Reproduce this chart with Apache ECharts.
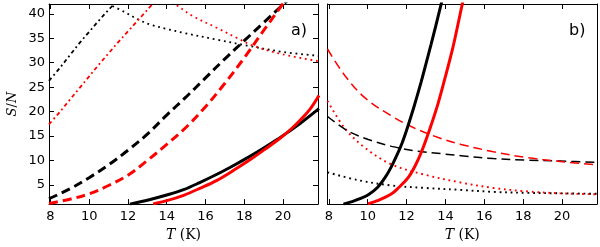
<!DOCTYPE html>
<html>
<head>
<meta charset="utf-8">
<script src="https://cdn.jsdelivr.net/npm/echarts@6/dist/echarts.min.js"></script>
<style>html,body{margin:0;padding:0;background:#fff}#c{width:600px;height:247px}</style>
</head>
<body>
<div id="c"></div>
<script>
// ---- tick labels ----
const xTicks = [8, 10, 12, 14, 16, 18, 20];
const yTicks = [5, 10, 15, 20, 25, 30, 35, 40];

// ---- panel a) ----
const aBlackSolidT = [12.1, 13.15, 14.0, 14.87, 15.7, 16.59, 17.45, 18.31, 19.0, 19.69, 20.3, 20.89, 21.85];
const aBlackSolidV = [1.1, 2.05, 2.95, 4.05, 5.5, 7.2, 9.0, 10.9, 12.55, 14.3, 15.95, 17.6, 20.6];
const aRedSolidT = [13.3, 14.0, 14.87, 15.7, 16.59, 17.45, 18.31, 19.1, 19.86, 20.4, 20.89, 21.35, 21.85];
const aRedSolidV = [1.15, 1.8, 2.9, 4.3, 5.95, 8.0, 10.2, 12.4, 14.6, 16.4, 18.3, 20.3, 23.3];
const aBlackDashT = [7.93, 9, 10, 11, 12, 13, 14, 15, 16, 17, 18, 19, 20, 20.5];
const aBlackDashV = [2.2, 4.2, 6.5, 9.1, 12.1, 15.4, 19.3, 23.0, 26.9, 30.8, 34.5, 38.2, 41.9, 43.7];
const aRedDashT = [7.93, 9, 10, 11, 12, 13, 14, 15, 16, 17, 18, 19, 20, 20.4];
const aRedDashV = [1.25, 2.1, 3.2, 4.9, 7.0, 10.0, 13.3, 16.8, 21.0, 25.8, 31.0, 36.6, 42.1, 44.5];
const aBlackDashDotT = [7.93, 8.5, 9.0, 9.5, 10.0, 10.5, 11.0, 11.2];
const aBlackDashDotV = [26.3, 29.0, 31.5, 34.0, 36.3, 38.6, 40.8, 41.6];
const aBlackDotT = [11.2, 11.76, 12.64, 13.15, 14.0, 14.87, 16.6, 18.15, 20.0, 21.85];
const aBlackDotV = [41.6, 40.5, 38.6, 37.8, 36.9, 36.1, 34.7, 33.5, 32.2, 31.4];
const aRedDashDotT = [7.93, 8.5, 9, 9.5, 10, 10.5, 11, 11.5, 12, 12.5, 13, 13.5];
const aRedDashDotV = [17.4, 20.0, 22.4, 24.8, 27.2, 29.6, 31.9, 34.2, 36.4, 38.6, 40.8, 43.0];
const aRedDotT = [14.3, 14.5, 15.36, 16.6, 17.6, 18.5, 20.0, 21.85];
const aRedDotV = [42.5, 41.8, 39.5, 37.1, 35.1, 33.4, 31.7, 30.3];

// ---- panel b) ----
const bBlackSolidT = [8.75, 9.2, 9.6, 10.03, 10.5, 10.89, 11.2, 11.49, 11.75, 12.0, 12.25, 12.5, 12.75, 13.0, 13.25, 13.5, 13.75, 13.9];
const bBlackSolidV = [1.1, 1.6, 2.2, 3.0, 4.5, 6.5, 8.6, 11.0, 13.4, 16.2, 19.3, 22.6, 26.1, 29.8, 33.6, 37.5, 41.5, 44.0];
const bRedSolidT = [10.0, 10.5, 11.23, 11.6, 12.09, 12.45, 12.78, 13.2, 13.63, 13.98, 14.4, 14.84, 15.0];
const bRedSolidV = [1.15, 1.8, 3.2, 4.5, 6.55, 9.0, 11.9, 16.5, 21.8, 26.9, 33.4, 41.5, 44.3];
const bBlackDashT = [7.93, 9.0, 10.03, 11.23, 12.6, 13.8, 14.8, 16.47, 18.19, 19.9, 21.85];
const bBlackDashV = [19.0, 16.0, 14.3, 12.9, 11.9, 11.4, 11.0, 10.4, 10.1, 9.9, 9.6];
const bRedDashT = [7.93, 8.82, 9.86, 11.23, 12.26, 13.63, 14.8, 16.47, 18.19, 19.9, 21.85];
const bRedDashV = [32.8, 27.4, 22.8, 19.1, 16.9, 14.7, 13.3, 11.8, 10.6, 9.8, 9.1];
const bBlackDotT = [7.93, 9.5, 11.23, 12.95, 14.8, 16.47, 18.2, 19.9, 21.85];
const bBlackDotV = [7.6, 6.0, 4.9, 4.4, 4.0, 3.6, 3.4, 3.3, 3.2];
const bRedDotT = [7.93, 8.82, 9.86, 11.23, 12.95, 14.8, 16.47, 18.2, 19.9, 21.85];
const bRedDotV = [22.2, 16.6, 12.6, 9.2, 7.1, 5.5, 4.4, 3.7, 3.3, 3.1];

const XMIN = 7.93, XMAX = 21.8, YMIN = 1.1, YMAX = 42;
const RED = '#ff0000', BLACK = '#000000';

function pairs(t, v) { return t.map((x, i) => [x, v[i]]); }
function mk(grid, t, v, color, width, type) {
  return {
    type: 'line', xAxisIndex: grid === 0 ? 0 : 2, yAxisIndex: grid === 0 ? 0 : 2,
    data: pairs(t, v), showSymbol: false, symbol: 'none', smooth: 0.35, clip: true,
    lineStyle: { color: color, width: width, type: type, cap: 'butt' }, z: 2
  };
}

const tickStyle = { show: true, inside: true, length: 5, lineStyle: { color: '#000', width: 1 } };
const labelFont = { color: '#000', fontFamily: 'DejaVu Sans', fontSize: 13 };
const xName = {
  name: '{i|T} (K)', nameLocation: 'middle', nameGap: 22,
  nameTextStyle: { color: '#000', fontFamily: 'DejaVu Serif', fontSize: 14,
    rich: { i: { fontStyle: 'italic', fontFamily: 'DejaVu Serif', fontSize: 14, color: '#000' } } }
};

function xBottom(g, withLabels) {
  return Object.assign({
    type: 'value', gridIndex: g, min: XMIN, max: XMAX, position: 'bottom',
    axisLine: { show: true, onZero: false, lineStyle: { color: '#000', width: 1 } },
    axisTick: Object.assign({ customValues: xTicks }, tickStyle),
    axisLabel: Object.assign({ show: withLabels, customValues: xTicks, margin: 6 }, labelFont),
    splitLine: { show: false }
  }, xName);
}
function xTop(g) {
  return {
    type: 'value', gridIndex: g, min: XMIN, max: XMAX, position: 'top',
    axisLine: { show: true, onZero: false, lineStyle: { color: '#000', width: 1 } },
    axisTick: Object.assign({ customValues: xTicks }, tickStyle),
    axisLabel: { show: false }, splitLine: { show: false }
  };
}
function yAxisDef(g, pos, ticks, labels, name) {
  const o = {
    type: 'value', gridIndex: g, min: YMIN, max: YMAX, position: pos,
    axisLine: { show: true, onZero: false, lineStyle: { color: '#000', width: 1 } },
    axisTick: ticks ? Object.assign({ customValues: yTicks }, tickStyle) : { show: false },
    axisLabel: Object.assign({ show: labels, customValues: yTicks, margin: 4 }, labelFont),
    splitLine: { show: false }
  };
  if (name) {
    o.name = '{i|S}/{i|N}'; o.nameLocation = 'middle'; o.nameGap = 30; o.nameRotate = 90;
    o.nameTextStyle = { color: '#000', fontFamily: 'DejaVu Serif', fontSize: 13,
      rich: { i: { fontStyle: 'italic', fontFamily: 'DejaVu Serif', fontSize: 13, color: '#000' } } };
  }
  return o;
}

const DOT = [1.8, 3.8];
const DASHDOT = [4, 3, 1.8, 3];
const option = {
  animation: false,
  backgroundColor: '#fff',
  grid: [
    { left: 49, top: 4, width: 269, height: 202.5, containLabel: false },
    { left: 327.5, top: 4, width: 269.5, height: 202.5, containLabel: false }
  ],
  xAxis: [xBottom(0, true), xTop(0), xBottom(1, true), xTop(1)],
  yAxis: [
    yAxisDef(0, 'left', true, true, true),
    yAxisDef(0, 'right', true, false, false),
    yAxisDef(1, 'left', false, false, false),
    yAxisDef(1, 'right', false, false, false)
  ],
  graphic: [
    { type: 'text', left: 291, top: 23, style: { text: 'a)', font: '16px "DejaVu Sans"', fill: '#000' } },
    { type: 'text', left: 569, top: 23, style: { text: 'b)', font: '16px "DejaVu Sans"', fill: '#000' } }
  ],
  series: [
    mk(0, aBlackDashDotT, aBlackDashDotV, BLACK, 1.8, DASHDOT),
    mk(0, aBlackDotT, aBlackDotV, BLACK, 1.8, DOT),
    mk(0, aRedDashDotT, aRedDashDotV, RED, 1.8, DASHDOT),
    mk(0, aRedDotT, aRedDotV, RED, 1.8, DOT),
    mk(0, aBlackDashT, aBlackDashV, BLACK, 3, [9, 5]),
    mk(0, aRedDashT, aRedDashV, RED, 3, [9, 5]),
    mk(0, aBlackSolidT, aBlackSolidV, BLACK, 3, 'solid'),
    mk(0, aRedSolidT, aRedSolidV, RED, 3, 'solid'),
    mk(1, bBlackDotT, bBlackDotV, BLACK, 1.9, DOT),
    mk(1, bRedDotT, bRedDotV, RED, 1.9, DOT),
    mk(1, bBlackDashT, bBlackDashV, BLACK, 1.5, [9, 5]),
    mk(1, bRedDashT, bRedDashV, RED, 1.5, [9, 5]),
    mk(1, bBlackSolidT, bBlackSolidV, BLACK, 3, 'solid'),
    mk(1, bRedSolidT, bRedSolidV, RED, 3, 'solid')
  ]
};

const chart = echarts.init(document.getElementById('c'), null, { renderer: 'canvas' });
chart.setOption(option);
</script>
</body>
</html>
